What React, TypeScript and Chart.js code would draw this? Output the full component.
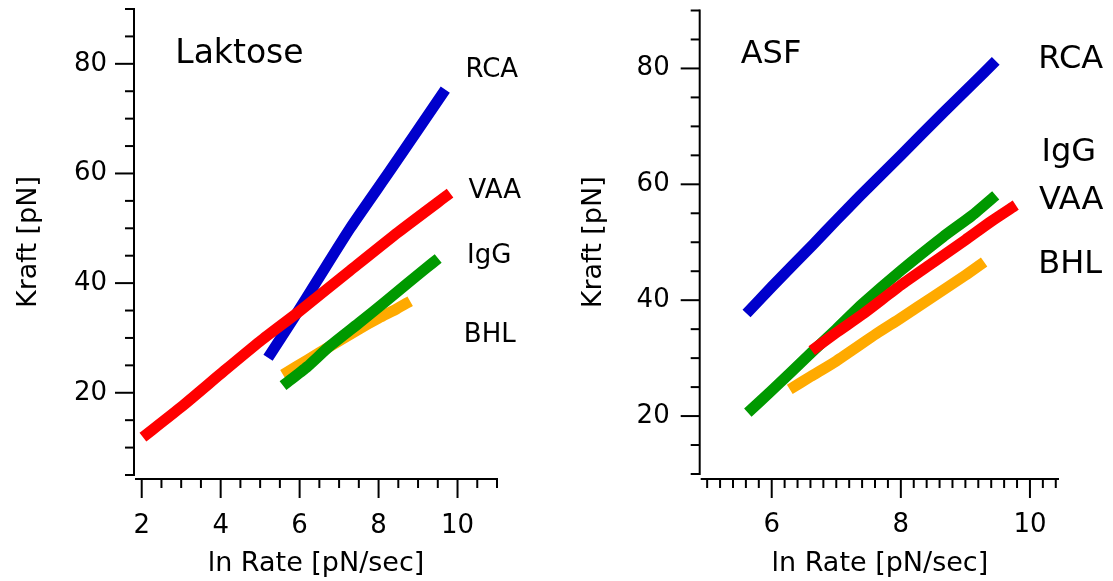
import React, { useEffect, useRef } from 'react';
import { Chart, registerables } from 'chart.js';

Chart.register(...registerables);

const FONT_FAMILY = '"DejaVu Sans", Verdana, sans-serif';

// ---------------- Data: Laktose panel ----------------
const laktoseRcaX = [5.2, 5.84, 6.44, 7.28, 8.29, 9.0, 9.69];
const laktoseRcaY = [26.4, 33.5, 40.4, 50.0, 60.5, 68.0, 75.3];
const laktoseVaaX = [2.03, 3.0, 4.09, 5.0, 6.0, 7.28, 8.5, 9.81];
const laktoseVaaY = [11.9, 17.4, 24.0, 29.4, 34.9, 42.3, 49.3, 56.4];
const laktoseIggX = [5.58, 6.2, 6.73, 7.5, 8.2, 8.72, 9.2, 9.51];
const laktoseIggY = [21.3, 24.8, 28.3, 32.7, 36.8, 39.9, 42.7, 44.5];
const laktoseBhlX = [5.58, 6.2, 6.73, 7.5, 8.0, 8.46, 8.8];
const laktoseBhlY = [23.3, 26.0, 28.3, 31.6, 33.6, 35.3, 36.7];

// ---------------- Data: ASF panel ----------------
const asfRcaX = [5.61, 6.0, 6.64, 7.0, 7.36, 8.0, 8.65, 9.1, 9.47];
const asfRcaY = [37.7, 42.3, 49.6, 53.8, 57.9, 65.0, 72.3, 77.2, 81.3];
const asfVaaX = [6.62, 7.0, 7.41, 8.0, 8.5, 9.0, 9.4, 9.78];
const asfVaaY = [31.3, 34.4, 37.6, 42.6, 46.5, 50.4, 53.6, 56.4];
const asfIggX = [5.63, 6.0, 6.62, 7.0, 7.41, 8.0, 8.65, 9.1, 9.47];
const asfIggY = [20.6, 24.4, 31.0, 35.0, 39.4, 45.1, 50.9, 54.6, 58.1];
const asfBhlX = [6.28, 6.6, 7.0, 7.62, 8.0, 8.5, 9.0, 9.29];
const asfBhlY = [24.6, 26.8, 29.5, 34.2, 36.9, 40.6, 44.3, 46.6];

// Series names, axis titles
const seriesNames = ['RCA', 'VAA', 'IgG', 'BHL'];
const xAxisTitle = 'ln Rate [pN/sec]';
const yAxisTitle = 'Kraft [pN]';
const panelTitles = ['Laktose', 'ASF'];

// Styles
const seriesColors: Record<string, string> = {
  RCA: '#0000CC',
  VAA: '#FF0000',
  IgG: '#009900',
  BHL: '#FFAA00',
};

const zip = (xs: number[], ys: number[]) => xs.map((x, i) => ({ x, y: ys[i] }));
const isMultiple = (v: number, step: number) => {
  const r = v / step;
  return Math.abs(r - Math.round(r)) < 1e-6;
};

type Annot = { text: string; x: number; y: number; size: number };

type Panel = {
  width: number;
  chartLeft: number;
  padRight: number;
  padTop: number;
  xAxisHeight: number;
  xMin: number;
  xMax: number;
  xStep: number;
  yMin: number;
  yMax: number;
  yTitlePad: number;
  yTickPad: number;
  xAxisGap: number;
  series: { name: string; data: { x: number; y: number }[] }[];
  annotations: Annot[];
};

const laktosePanel: Panel = {
  width: 556,
  chartLeft: 135,
  padRight: 59,
  padTop: 9,
  xAxisHeight: 106,
  xMin: 1.83,
  xMax: 11.0,
  xStep: 0.5,
  yMin: 5,
  yMax: 90,
  yTitlePad: 13,
  yTickPad: 28,
  xAxisGap: 4,
  series: [
    { name: 'VAA', data: zip(laktoseVaaX, laktoseVaaY) },
    { name: 'IgG', data: zip(laktoseIggX, laktoseIggY) },
    { name: 'BHL', data: zip(laktoseBhlX, laktoseBhlY) },
    { name: 'RCA', data: zip(laktoseRcaX, laktoseRcaY) },
  ],
  annotations: [
    { text: panelTitles[0], x: 2.85, y: 81.8, size: 33 },
    { text: seriesNames[0], x: 10.2, y: 78.9, size: 26 },
    { text: seriesNames[1], x: 10.28, y: 56.7, size: 26 },
    { text: seriesNames[2], x: 10.24, y: 44.9, size: 26 },
    { text: seriesNames[3], x: 10.16, y: 30.4, size: 26 },
  ],
};

const asfPanel: Panel = {
  width: 557,
  chartLeft: 144.7,
  padRight: 54,
  padTop: 10.5,
  xAxisHeight: 107,
  xMin: 4.9,
  xMax: 10.45,
  xStep: 0.2,
  yMin: 10,
  yMax: 90,
  yTitlePad: 21.5,
  yTickPad: 31,
  xAxisGap: 5,
  series: [
    { name: 'VAA', data: zip(asfVaaX, asfVaaY) },
    { name: 'IgG', data: zip(asfIggX, asfIggY) },
    { name: 'BHL', data: zip(asfBhlX, asfBhlY) },
    { name: 'RCA', data: zip(asfRcaX, asfRcaY) },
  ],
  annotations: [
    { text: panelTitles[1], x: 5.52, y: 82.4, size: 32 },
    { text: seriesNames[0], x: 10.13, y: 81.5, size: 32 },
    { text: seriesNames[2], x: 10.18, y: 65.5, size: 32 },
    { text: seriesNames[1], x: 10.14, y: 57.1, size: 32 },
    { text: seriesNames[3], x: 10.13, y: 46.1, size: 32 },
  ],
};

const igorAxesPlugin = {
  id: 'igorAxes',
  afterDraw(chart: any, _args: any, opts: any) {
    const { ctx, chartArea } = chart;
    const xs = chart.scales.x;
    const ys = chart.scales.y;
    ctx.save();
    ctx.strokeStyle = '#000';
    ctx.lineWidth = 2;
    ctx.lineCap = 'butt';

    // y axis
    const axX = chartArea.left - 1;
    const yTop = ys.getPixelForValue(ys.max);
    const yBot = ys.getPixelForValue(ys.min);
    ctx.beginPath();
    ctx.moveTo(axX, yTop - 1);
    ctx.lineTo(axX, yBot + 1);
    ctx.stroke();
    ys.ticks.forEach((t: any) => {
      const py = ys.getPixelForValue(t.value);
      const len = isMultiple(t.value, 20) ? 19 : 9;
      ctx.beginPath();
      ctx.moveTo(axX, py);
      ctx.lineTo(axX - len, py);
      ctx.stroke();
    });

    // x axis
    const axY = chartArea.bottom + opts.xAxisGap;
    ctx.beginPath();
    ctx.moveTo(xs.getPixelForValue(xs.min), axY);
    ctx.lineTo(xs.getPixelForValue(xs.max), axY);
    ctx.stroke();
    xs.ticks.forEach((t: any) => {
      const px = xs.getPixelForValue(t.value);
      const len = isMultiple(t.value, 2) ? 19 : 9;
      ctx.beginPath();
      ctx.moveTo(px, axY - 1);
      ctx.lineTo(px, axY + len);
      ctx.stroke();
    });

    // annotations
    ctx.fillStyle = '#000';
    ctx.textBaseline = 'middle';
    ctx.textAlign = 'left';
    (opts.annotations as Annot[]).forEach((a) => {
      ctx.font = `${a.size}px ${FONT_FAMILY}`;
      ctx.fillText(a.text, xs.getPixelForValue(a.x), ys.getPixelForValue(a.y));
    });
    ctx.restore();
  },
};

function buildConfig(p: Panel): any {
  return {
    type: 'line',
    data: {
      datasets: p.series.map((s) => ({
        label: s.name,
        data: s.data,
        borderColor: seriesColors[s.name],
        backgroundColor: seriesColors[s.name],
        borderWidth: 11,
        borderCapStyle: 'butt',
        borderJoinStyle: 'round',
        pointRadius: 0,
        pointHoverRadius: 0,
        tension: 0.2,
        fill: false,
      })),
    },
    options: {
      responsive: false,
      animation: false,
      devicePixelRatio: 1,
      events: [],
      layout: { padding: { left: 0, right: p.padRight, top: p.padTop, bottom: 0 } },
      plugins: {
        legend: { display: false },
        tooltip: { enabled: false },
        igorAxes: { annotations: p.annotations, xAxisGap: p.xAxisGap },
      },
      scales: {
        x: {
          type: 'linear',
          min: p.xMin,
          max: p.xMax,
          afterFit: (s: any) => {
            s.height = p.xAxisHeight;
            s.paddingLeft = 0;
            s.paddingRight = 0;
            s.paddingTop = 0;
            s.paddingBottom = 0;
          },
          grid: { display: false, drawTicks: false },
          border: { display: false },
          ticks: {
            stepSize: p.xStep,
            includeBounds: false,
            autoSkip: false,
            maxRotation: 0,
            minRotation: 0,
            padding: 36,
            color: '#000',
            font: { size: 26, family: FONT_FAMILY },
            callback: (v: number) => (isMultiple(v, 2) ? String(Math.round(v)) : ''),
          },
          title: {
            display: true,
            text: xAxisTitle,
            color: '#000',
            font: { size: 27, family: FONT_FAMILY },
            padding: { top: 0, bottom: 1 },
          },
        },
        y: {
          type: 'linear',
          min: p.yMin,
          max: p.yMax,
          afterFit: (s: any) => {
            s.width = p.chartLeft;
            s.paddingLeft = 0;
            s.paddingRight = 0;
            s.paddingTop = 0;
            s.paddingBottom = 0;
          },
          grid: { display: false, drawTicks: false },
          border: { display: false },
          ticks: {
            stepSize: 5,
            includeBounds: false,
            autoSkip: false,
            padding: p.yTickPad,
            color: '#000',
            font: { size: 26, family: FONT_FAMILY },
            callback: (v: number) => (isMultiple(v, 20) ? String(Math.round(v)) : ''),
          },
          title: {
            display: true,
            text: yAxisTitle,
            color: '#000',
            font: { size: 27, family: FONT_FAMILY },
            padding: { top: p.yTitlePad, bottom: 0 },
          },
        },
      },
    },
    plugins: [igorAxesPlugin],
  };
}

function PanelChart({ panel, left }: { panel: Panel; left: number }) {
  const ref = useRef<HTMLCanvasElement>(null);
  useEffect(() => {
    if (!ref.current) return;
    const chart = new Chart(ref.current, buildConfig(panel));
    return () => chart.destroy();
  }, [panel]);
  return (
    <canvas
      ref={ref}
      width={panel.width}
      height={581}
      style={{ position: 'absolute', left, top: 0, display: 'block', width: panel.width, height: 581 }}
    />
  );
}

export default function App() {
  return (
    <div style={{ position: 'absolute', left: 0, top: 0, width: 1113, height: 581, background: '#fff', overflow: 'hidden' }}>
      <PanelChart panel={laktosePanel} left={0} />
      <PanelChart panel={asfPanel} left={556} />
    </div>
  );
}
